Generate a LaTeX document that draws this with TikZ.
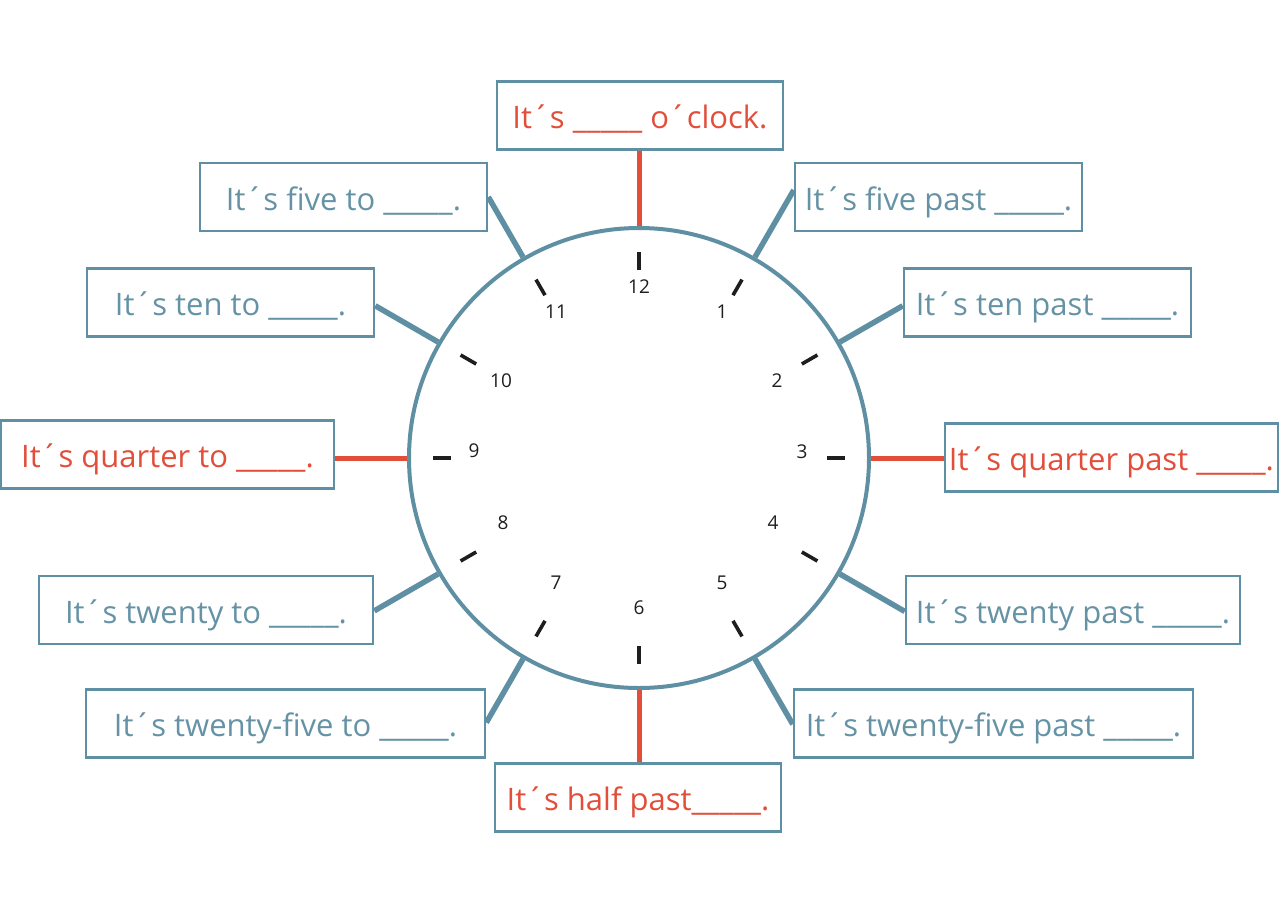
\documentclass[tikz,border=0pt]{standalone}
\usepackage{fontspec}
\setmainfont{Open Sans}
\usetikzlibrary{calc}
\definecolor{cblue}{HTML}{5F8FA2}
\definecolor{cred}{HTML}{E24E3A}
\definecolor{ctext}{HTML}{6593A5}
\definecolor{cdark}{HTML}{1E1E1E}
\newcommand\myblank{\_\_\_\_\_}
\tikzset{
  lbl/.style={draw=cblue, line width=2.6pt, fill=white, inner sep=0pt, text=ctext,
    font=\fontsize{31}{34}\selectfont, minimum height=68pt, text height=26pt, text depth=0pt},
  redlbl/.style={lbl, text=cred},
  conn/.style={draw=cblue, line width=5.5pt},
  redconn/.style={draw=cred, line width=5pt},
  tick/.style={draw=cdark, line width=3.6pt},
  num/.style={text=cdark, font=\fontsize{19}{21}\selectfont, inner sep=0pt}
}
\begin{document}
\begin{tikzpicture}[x=1pt,y=-1pt]
\useasboundingbox (0,0) rectangle (1280,914);
% clock
\node[circle, draw=cblue, line width=4pt, minimum size=460pt, inner sep=0pt] (c) at (639,458) {};
% boxes
\node[redlbl, minimum width=286pt] (oclock) at (640,115.5) {It´s \myblank{} o´clock.};
\node[lbl, minimum width=287pt] (fiveto) at (343.5,197) {It´s five to \myblank.};
\node[lbl, minimum width=287pt] (fivepast) at (938.5,197) {It´s five past \myblank.};
\node[lbl, minimum width=287pt] (tento) at (230.5,302.5) {It´s ten to \myblank.};
\node[lbl, minimum width=287pt] (tenpast) at (1047.5,302.5) {It´s ten past \myblank.};
\node[redlbl, minimum width=333pt] (quarterto) at (167.5,454.5) {It´s quarter to \myblank.};
\node[redlbl, minimum width=333pt] (quarterpast) at (1111.5,457.5) {It´s quarter past \myblank.};
\node[lbl, minimum width=334pt] (twentyto) at (206,610) {It´s twenty to \myblank.};
\node[lbl, minimum width=334pt] (twentypast) at (1073,610) {It´s twenty past \myblank.};
\node[lbl, minimum width=399pt] (tfto) at (285.5,723.5) {It´s twenty-five to \myblank.};
\node[lbl, minimum width=399pt] (tfpast) at (993.5,723.5) {It´s twenty-five past \myblank.};
\node[redlbl, minimum width=286pt] (half) at (638,797.5) {It´s half past\myblank.};
% connectors
\draw[redconn] (c.90) -- (c.90 |- oclock.south);
\draw[redconn] (c.270) -- (c.270 |- half.north);
\draw[redconn] (c.180) -- (c.180 -| quarterto.east);
\draw[redconn] (c.0) -- (c.0 -| quarterpast.west);
\draw[conn] (c.120) -- (intersection of c.center--c.120 and fiveto.north east--fiveto.south east);
\draw[conn] (c.150) -- (intersection of c.center--c.150 and tento.north east--tento.south east);
\draw[conn] (c.210) -- (intersection of c.center--c.210 and twentyto.north east--twentyto.south east);
\draw[conn] (c.240) -- (intersection of c.center--c.240 and tfto.north east--tfto.south east);
\draw[conn] (c.60) -- (intersection of c.center--c.60 and fivepast.north west--fivepast.south west);
\draw[conn] (c.30) -- (intersection of c.center--c.30 and tenpast.north west--tenpast.south west);
\draw[conn] (c.330) -- (intersection of c.center--c.330 and twentypast.north west--twentypast.south west);
\draw[conn] (c.300) -- (intersection of c.center--c.300 and tfpast.north west--tfpast.south west);
% ticks
\foreach \a in {0,30,...,330}{
  \draw[tick] ($(c.center)+(\a:188)$) -- ($(c.center)+(\a:206)$);
}
% numbers
\node[num] (n12) at (639,287) {12};
\node[num] (n1) at (722,312) {1};
\node[num] (n2) at (777,381) {2};
\node[num] (n3) at (802,452) {3};
\node[num] (n4) at (773,523) {4};
\node[num] (n5) at (722,583) {5};
\node[num] (n6) at (639,608) {6};
\node[num] (n7) at (556,583) {7};
\node[num] (n8) at (503,523) {8};
\node[num] (n9) at (474,451) {9};
\node[num] (n10) at (501,381) {10};
\node[num] (n11) at (556,312) {11};
\end{tikzpicture}
\end{document}
